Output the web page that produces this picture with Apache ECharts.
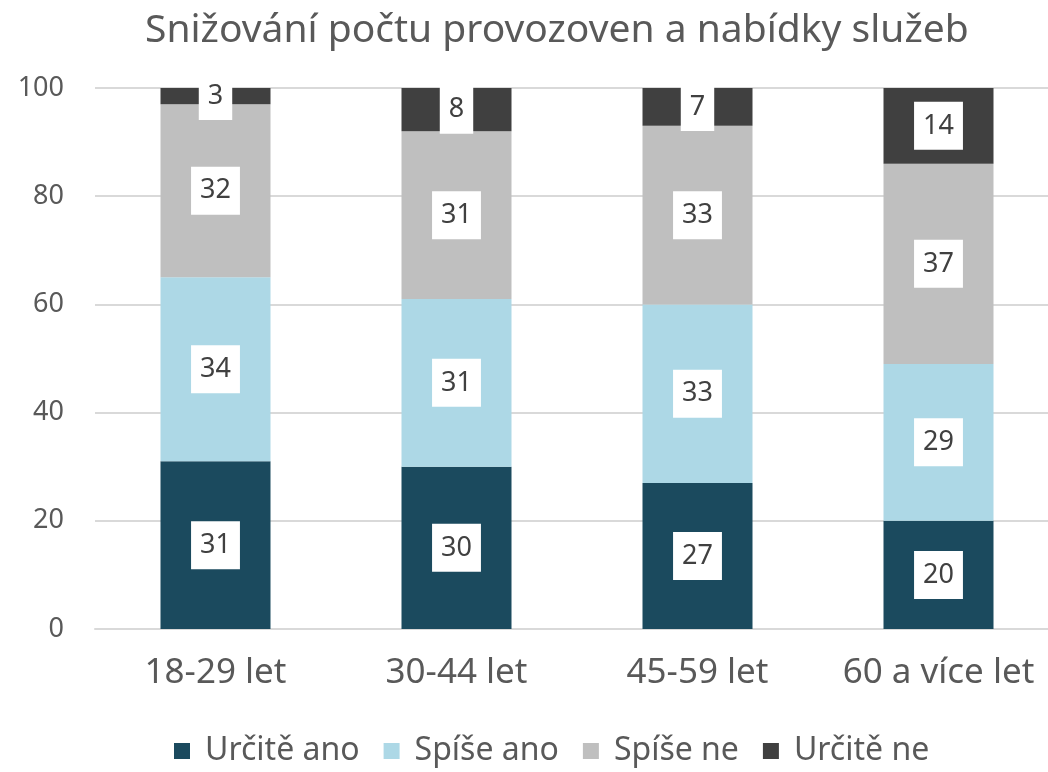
<!DOCTYPE html>
<html>
<head>
<meta charset="utf-8">
<script src="https://cdn.jsdelivr.net/npm/echarts@6/dist/echarts.min.js"></script>
<style>
  html, body { margin: 0; padding: 0; background: #fff; }
  #chart { width: 1048px; height: 772px; }
</style>
</head>
<body>
<div id="chart"></div>
<script>
var categories = ['18-29 let', '30-44 let', '45-59 let', '60 a více let'];
var urciteAno = [31, 30, 27, 20];
var spiseAno = [34, 31, 33, 29];
var spiseNe = [32, 31, 33, 37];
var urciteNe = [3, 8, 7, 14];

var seriesNames = ['Určitě ano', 'Spíše ano', 'Spíše ne', 'Určitě ne'];
var seriesColors = ['#1b4a5e', '#add8e6', '#bfbfbf', '#404040'];
var seriesData = [urciteAno, spiseAno, spiseNe, urciteNe];

var font = 'Noto Sans';

var chart = echarts.init(document.getElementById('chart'));

var series = seriesData.map(function (d, i) {
    return {
        name: seriesNames[i],
        type: 'bar',
        stack: 'total',
        barWidth: 110,
        data: d,
        itemStyle: { color: seriesColors[i] },
        label: {
            show: true,
            position: 'inside',
            color: '#404040',
            fontFamily: font,
            fontSize: 27,
            lineHeight: 28,
            backgroundColor: '#fff',
            padding: [10, 9, 10, 9]
        }
    };
});

chart.setOption({
    animation: false,
    title: {
        text: 'Snižování počtu provozoven a nabídky služeb',
        left: 140,
        top: 6,
        textStyle: { fontFamily: font, fontSize: 39, fontWeight: 'normal', color: '#595959' }
    },
    legend: {
        bottom: 0,
        left: 169,
        itemWidth: 16,
        itemHeight: 16,
        itemGap: 24,
        icon: 'rect',
        textStyle: { fontFamily: font, fontSize: 32, color: '#595959', padding: [0, 0, 0, 10] },
        data: seriesNames
    },
    grid: { left: 95, top: 88, width: 964, height: 541, outerBoundsMode: 'none', containLabel: false },
    xAxis: {
        type: 'category',
        data: categories,
        axisLine: { lineStyle: { color: '#d9d9d9', width: 2 } },
        axisTick: { show: false },
        axisLabel: { interval: 0, hideOverlap: false, fontFamily: font, fontSize: 35, color: '#595959', margin: 27 }
    },
    yAxis: {
        type: 'value',
        min: 0,
        max: 100,
        interval: 20,
        axisLine: { show: false },
        axisTick: { show: false },
        splitLine: { lineStyle: { color: '#d9d9d9', width: 2 } },
        axisLabel: { fontFamily: font, fontSize: 27, color: '#595959', margin: 31 }
    },
    series: series
});
</script>
</body>
</html>
